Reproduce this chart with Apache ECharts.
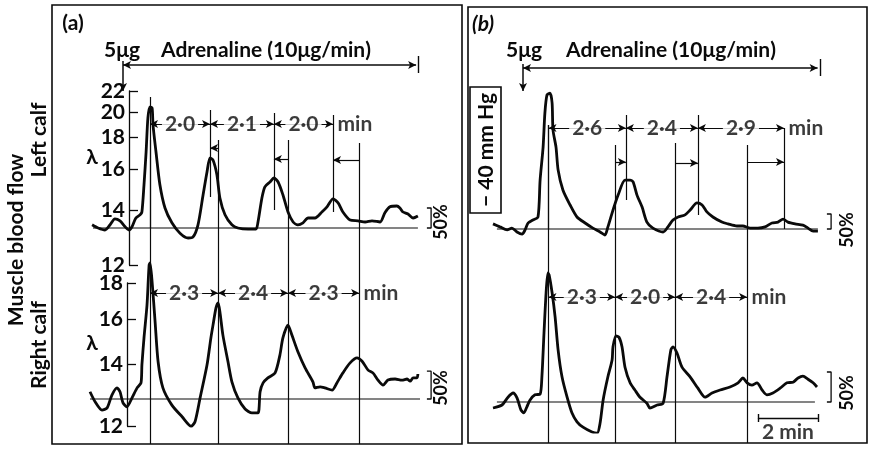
<!DOCTYPE html>
<html><head><meta charset="utf-8">
<script src="https://cdn.jsdelivr.net/npm/echarts@6/dist/echarts.min.js"></script>
<style>html,body{margin:0;padding:0;background:#fff}#c{width:871px;height:450px}</style>
</head><body><div id="c"></div>
<script>
// ---------------- data (time in min from the 5 µg injection, flow in % change) ----------------
const aTopTime = [-1.03,-0.83,-0.6,-0.43,-0.27,-0.1,0.07,0.2,0.3,0.43,0.57,0.63,0.7,0.77,0.83,0.9,0.97,1.0,1.1,1.23,1.4,1.63,1.9,2.17,2.33,2.5,2.67,2.8,2.9,3.0,3.13,3.23,3.4,3.63,3.83,4.17,4.43,4.5,4.63,4.73,4.9,5.03,5.17,5.33,5.5,5.67,5.83,6.0,6.17,6.4,6.63,6.8,7.0,7.17,7.33,7.57,7.83,8.07,8.3,8.57,8.73,8.9,9.13,9.23,9.33,9.5,9.67,9.83];
const aTopFlow = [8,0,-5,8,23,18,3,-5,3,25,33,40,108,190,275,303,300,258,190,108,50,13,-13,-25,-23,8,83,140,175,170,133,75,33,8,0,-3,-3,15,75,103,115,125,115,83,40,15,8,13,25,25,40,53,73,63,40,20,18,15,18,15,38,53,55,50,40,35,25,30];
const aBotTime = [-1.1,-0.93,-0.7,-0.53,-0.37,-0.2,-0.1,0,0.13,0.3,0.47,0.6,0.63,0.7,0.8,0.87,0.9,0.97,1.07,1.17,1.33,1.63,1.97,2.27,2.4,2.57,2.8,2.93,3.0,3.1,3.17,3.23,3.33,3.5,3.63,3.83,4.07,4.3,4.5,4.57,4.67,4.83,5.07,5.23,5.33,5.5,5.63,5.83,6.07,6.33,6.4,6.57,6.73,6.97,7.13,7.33,7.57,7.8,7.97,8.17,8.33,8.5,8.67,8.83,9.07,9.3,9.47,9.57,9.67,9.8,9.83];
const aBotFlow = [13,-5,-20,-16,7,20,13,-7,-14,2,20,29,61,110,169,241,245,211,139,67,20,-11,-32,-49,-41,2,61,110,133,164,173,157,115,67,31,2,-18,-25,-25,13,29,38,47,79,110,133,115,85,56,31,20,22,20,16,29,47,65,74,68,52,47,34,25,34,36,34,36,32,38,38,45];
const bTopTime = [-1.0,-0.77,-0.53,-0.37,-0.2,-0.03,0.07,0.17,0.33,0.5,0.57,0.67,0.73,0.8,0.9,0.97,1.0,1.1,1.17,1.33,1.57,1.8,2.07,2.33,2.57,2.73,2.83,3.0,3.17,3.4,3.57,3.67,3.8,3.97,4.13,4.33,4.67,4.83,5.0,5.17,5.4,5.57,5.8,5.97,6.13,6.33,6.63,6.83,7.13,7.33,7.57,7.83,8.07,8.3,8.5,8.67,8.83,9.07,9.33,9.5,9.67,9.83];
const bTopFlow = [17,7,-3,3,-10,-17,-3,20,30,40,163,273,387,447,453,420,330,273,197,130,80,40,20,3,-10,-20,7,63,113,163,163,157,113,73,23,3,-10,7,30,40,47,63,87,80,57,40,23,17,10,10,3,3,7,20,23,33,23,17,13,3,-7,-7];
const bBotTime = [-1.0,-0.7,-0.5,-0.33,-0.2,-0.07,0.03,0.13,0.23,0.4,0.57,0.63,0.7,0.77,0.83,0.87,0.97,1.07,1.17,1.3,1.47,1.63,1.8,2.0,2.3,2.47,2.57,2.67,2.83,2.97,3.0,3.1,3.2,3.3,3.4,3.57,3.73,3.9,4.13,4.23,4.47,4.67,4.8,4.93,5.0,5.13,5.3,5.57,5.83,6.07,6.3,6.57,6.9,7.17,7.33,7.47,7.63,7.8,7.97,8.13,8.33,8.57,8.8,9.0,9.17,9.33,9.5,9.67,9.8];
const bBotFlow = [-10,-5,8,15,7,-13,-18,-8,3,12,13,42,115,182,215,212,182,142,87,42,8,-18,-33,-42,-50,-52,-35,3,42,70,92,110,108,92,58,32,20,8,-2,-10,-5,-2,42,87,92,82,58,42,23,8,15,20,25,32,40,32,28,32,20,12,15,23,32,33,40,43,38,32,25];

const aTopPeaks = [0.9, 2.9, 5.03, 7.0];
const aBotPeaks = [0.9, 3.17, 5.5, 7.87];
const bTopPeaks = [0.85, 3.43, 5.83, 8.7];
const bBotPeaks = [0.85, 3.07, 5.07, 7.47];
const aTopGaps = ['2·0', '2·1', '2·0'];
const aBotGaps = ['2·3', '2·4', '2·3'];
const bTopGaps = ['2·6', '2·4', '2·9'];
const bBotGaps = ['2·3', '2·0', '2·4'];
const aInfusionEnd = 9.85, bInfusionEnd = 9.9;
const scaleBar = [7.83, 9.83];          // 2 min
const lambdaTopTicks = [12, 14, 16, 18, 20, 22];
const lambdaBotTicks = [12, 14, 16, 18];
const calibPct = 50;

// ---------------- layout / style ----------------
const FONT = 'Lato, "Open Sans", sans-serif';
const INK = '#0a0a0a';
const FS = 21;
const L = {
  aInfRow: 65, bInfRow: 68, downEnd: 91,
  aTopRow: 124, aBotRow: 293, bTopRow: 128, bBotRow: 297,
  aLagRows: [148, 159, 160], bLagRows: [162, 163, 162],
  aTopSpan: [[97, 228], [110, 197], [113, 210], [115, 212]],
  aBotSpan: [[140, 444], [140, 444], [140, 444], [143, 444]],
  bTopSpan: [[125, 229], [115, 200], [115, 215], [128, 229]],
  bBotSpan: [[125, 443], [145, 443], [143, 443], [145, 443]],
  barRow: 418, barTextRow: 432
};

const zip = (t, v) => t.map((x, i) => [x, v[i]]);
const chart = echarts.init(document.getElementById('c'));

const gridDefs = [
  {left: 87, top: 88, width: 348, height: 180},
  {left: 87, top: 259, width: 348, height: 180},
  {left: 487, top: 79, width: 348, height: 180},
  {left: 487, top: 252, width: 348, height: 180},
  {left: 87, top: 0, width: 348, height: 450},
  {left: 487, top: 0, width: 348, height: 450},
  {left: 129, top: 91, width: 1, height: 174},
  {left: 127, top: 283, width: 1, height: 143}
];
const yRanges = [[-100, 350], [-72, 252], [-100, 500], [-50, 250], [0, 450], [0, 450]];

const xAxes = gridDefs.map((g, i) => ({gridIndex: i, type: 'value', show: false,
  min: i < 6 ? -1.2 : 0, max: i < 6 ? 10.4 : 1}));
const yAxes = yRanges.map((r, i) => ({gridIndex: i, type: 'value', show: false, min: r[0], max: r[1], inverse: i >= 4}));
function lambdaAxis(gi, ticks) {
  const cv = ticks.map(v => 1000 / v);
  return {gridIndex: gi, type: 'value', position: 'left', inverse: true,
    min: 1000 / Math.max(...ticks), max: 1000 / Math.min(...ticks),
    axisLine: {show: true, lineStyle: {color: INK, width: 1.3}},
    axisTick: {show: true, inside: true, length: 9, customValues: cv, lineStyle: {color: INK, width: 1.3}},
    axisLabel: {show: true, customValues: cv, formatter: v => String(Math.round(1000 / v)), margin: 4,
      color: INK, fontSize: FS, fontFamily: FONT, fontWeight: 'bold', showMinLabel: true, showMaxLabel: true},
    splitLine: {show: false}};
}
yAxes.push(lambdaAxis(6, lambdaTopTicks), lambdaAxis(7, lambdaBotTicks));

function trace(gi, t, v) {
  return {type: 'line', xAxisIndex: gi, yAxisIndex: gi, data: zip(t, v), symbol: 'none', smooth: 0.25,
    lineStyle: {color: INK, width: 2.8}, silent: true, z: 3};
}
function ref(gi, t0, t1) {
  return {type: 'line', xAxisIndex: gi, yAxisIndex: gi, symbol: 'none', silent: true, z: 2,
    lineStyle: {color: INK, width: 1.1}, data: [[t0, 0], [t1, 0]]};
}
function bracket(gi) {
  return {type: 'line', xAxisIndex: gi, yAxisIndex: gi, symbol: 'none', silent: true, z: 2,
    lineStyle: {color: INK, width: 1.3}, data: [[10.13, calibPct], [10.27, calibPct], [10.27, 0], [10.13, 0]]};
}
const seg = (t1, y1, t2, y2, s1, s2, w) => [
  {coord: [t1, y1], symbol: s1 || 'none', lineStyle: {width: w || 1.2, type: 'solid', color: INK}},
  {coord: [t2, y2], symbol: s2 || 'none'}];

function panelMarks(topPeaks, botPeaks, topSpan, botSpan, lagRows, topRow, botRow, infRow, infEnd) {
  const m = [];
  topPeaks.forEach((t, i) => m.push(seg(t, topSpan[i][0], t, topSpan[i][1])));
  botPeaks.forEach((t, i) => m.push(seg(t, botSpan[i][0], t, botSpan[i][1])));
  for (let i = 1; i < 4; i++) m.push(seg(botPeaks[i], lagRows[i - 1], topPeaks[i], lagRows[i - 1], 'none', 'arrow'));
  for (let i = 0; i < 3; i++) m.push(seg(topPeaks[i], topRow, topPeaks[i + 1], topRow, 'arrow', 'arrow'));
  for (let i = 0; i < 3; i++) m.push(seg(botPeaks[i], botRow, botPeaks[i + 1], botRow, 'arrow', 'arrow'));
  m.push(seg(0, infRow, infEnd - 0.08, infRow, 'arrow', 'arrow', 1.6));
  m.push(seg(infEnd, infRow - 9, infEnd, infRow + 8, 'none', 'none', 1.4));
  m.push(seg(0, infRow - 4, 0, L.downEnd, 'none', 'arrow', 1.5));
  return m;
}
function overlay(gi, marks, labels) {
  return [{type: 'line', xAxisIndex: gi, yAxisIndex: gi, data: [], silent: true,
      markLine: {silent: true, animation: false, symbolSize: [6, 8], label: {show: false},
        emphasis: {disabled: true}, lineStyle: {type: 'solid', color: INK, width: 1.2}, data: marks}},
    {type: 'scatter', xAxisIndex: gi, yAxisIndex: gi, symbolSize: 1, silent: true, z: 6,
      itemStyle: {color: 'rgba(0,0,0,0)'},
      label: {show: true, position: 'inside', formatter: p => p.name, color: INK, fontSize: FS,
        fontFamily: FONT, fontWeight: 'bold', backgroundColor: '#fff', padding: [0, 3]},
      data: labels}];
}
function gapLabels(peaks, gaps, row) {
  const out = gaps.map((g, i) => ({name: g, value: [(peaks[i] + peaks[i + 1]) / 2, row]}));
  out.push({name: 'min', value: [peaks[3], row], label: {position: 'right', distance: 4, backgroundColor: 'transparent', padding: 0}});
  return out;
}

const aMarks = panelMarks(aTopPeaks, aBotPeaks, L.aTopSpan, L.aBotSpan, L.aLagRows, L.aTopRow, L.aBotRow, L.aInfRow, aInfusionEnd);
const bMarks = panelMarks(bTopPeaks, bBotPeaks, L.bTopSpan, L.bBotSpan, L.bLagRows, L.bTopRow, L.bBotRow, L.bInfRow, bInfusionEnd);
bMarks.push(seg(scaleBar[0], L.barRow, scaleBar[1], L.barRow, 'none', 'none', 1.4));
bMarks.push(seg(scaleBar[0], L.barRow - 4, scaleBar[0], L.barRow + 4, 'none', 'none', 1.4));
bMarks.push(seg(scaleBar[1], L.barRow - 4, scaleBar[1], L.barRow + 4, 'none', 'none', 1.4));
const aLabels = gapLabels(aTopPeaks, aTopGaps, L.aTopRow).concat(gapLabels(aBotPeaks, aBotGaps, L.aBotRow));
const bLabels = gapLabels(bTopPeaks, bTopGaps, L.bTopRow).concat(gapLabels(bBotPeaks, bBotGaps, L.bBotRow));
bLabels.push({name: '2 min', value: [(scaleBar[0] + scaleBar[1]) / 2, L.barTextRow], label: {backgroundColor: 'transparent'}});

const font = (size, style) => `${style || ''} bold ${size}px ${FONT}`;
const T = (x, y, text, opt = {}) => ({type: 'text', x, y, rotation: opt.rot || 0, silent: true,
  style: {text, fill: INK, font: font(opt.size || FS, opt.style), align: 'center', verticalAlign: 'middle',
    textAlign: 'center', textVerticalAlign: 'middle'}});
const R = (x, y, w, h, lw) => ({type: 'rect', silent: true, shape: {x, y, width: w, height: h},
  style: {fill: 'none', stroke: INK, lineWidth: lw || 1.6}});
const UP = Math.PI / 2;

const graphics = [
  R(52, 5, 410, 439), R(468, 7, 399, 436), R(470, 87, 31, 126),
  T(73, 23, '(a)'), T(483, 24, '(b)', {style: 'italic'}),
  T(122, 50, '5μg'), T(266, 50, 'Adrenaline (10μg/min)'),
  T(524, 50, '5μg'), T(671, 50, 'Adrenaline (10μg/min)'),
  T(16, 240, 'Muscle blood flow', {rot: UP}),
  T(39, 140, 'Left calf', {rot: UP}), T(39, 345, 'Right calf', {rot: UP}),
  T(92, 157, 'λ'), T(92, 343, 'λ'),
  T(486, 150, '− 40 mm Hg', {rot: UP}),
  T(441, 222, '50%', {rot: UP, size: 18}), T(441, 388, '50%', {rot: UP, size: 18}),
  T(847, 230, '50%', {rot: UP, size: 18}), T(847, 393, '50%', {rot: UP, size: 18})
];

chart.setOption({
  animation: false,
  backgroundColor: '#fff',
  grid: gridDefs.map(g => Object.assign({outerBoundsMode: 'none', containLabel: false}, g)),
  xAxis: xAxes,
  yAxis: yAxes,
  graphic: graphics,
  series: [
    ref(0, -1.0, 9.83), ref(1, -1.1, 9.9), ref(2, -0.87, 9.83), ref(3, -0.87, 9.73),
    bracket(0), bracket(1), bracket(2), bracket(3),
    trace(0, aTopTime, aTopFlow), trace(1, aBotTime, aBotFlow),
    trace(2, bTopTime, bTopFlow), trace(3, bBotTime, bBotFlow),
    ...overlay(4, aMarks, aLabels), ...overlay(5, bMarks, bLabels)
  ]
});
</script></body></html>
